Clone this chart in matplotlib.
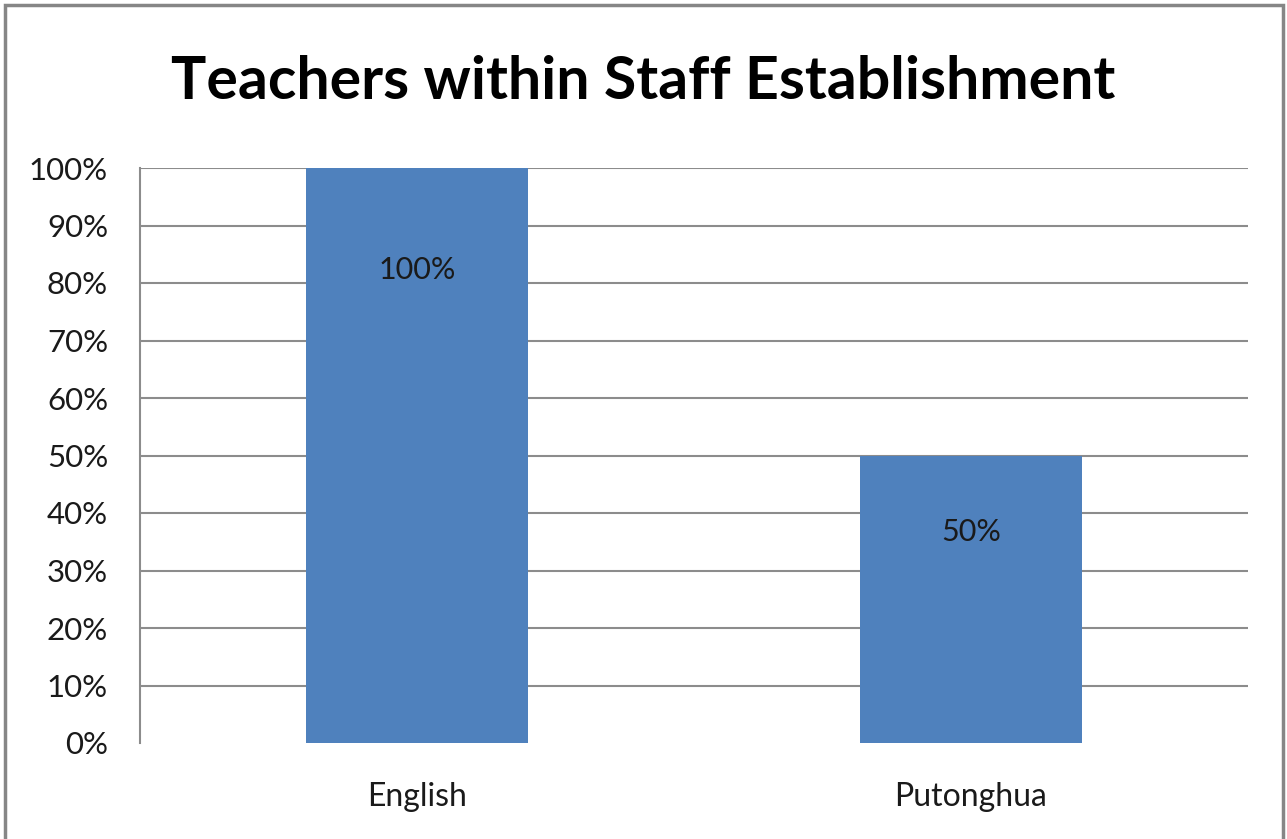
import matplotlib.pyplot as plt
from matplotlib.patches import Rectangle

subjects = ['English', 'Putonghua']
shares = [100, 50]
yticks = [0, 10, 20, 30, 40, 50, 60, 70, 80, 90, 100]

# how far below the bar top each value label sits (in % units)
label_drop = [17.7, 13.3]

plt.rcParams['font.family'] = ['Lato', 'DejaVu Sans']

fig = plt.figure(figsize=[12.87, 8.39], dpi=100, facecolor='white')
ax = fig.add_axes([140/1287, 1 - 743/839, 1108/1287, 575/839])

# outer chart border
fig.patches.append(Rectangle((5/1287, -0.01), 1278/1287, 1 - 5/839 + 0.01,
                             transform=fig.transFigure, fill=False,
                             edgecolor='#868686', linewidth=2.5))

x = range(len(subjects))
ax.bar(x, shares, width=0.4, color='#4F81BD', zorder=3)
for i, v, d in zip(x, shares, label_drop):
    ax.text(i, v - d, f'{v}%', ha='center', va='center', fontsize=22, color='#1a1a1a', zorder=4)

ax.set_xlim(-0.5, 1.5)
ax.set_ylim(0, 100)
ax.set_yticks(yticks)
ax.set_yticklabels([f'{t}%' for t in yticks], fontsize=22.5, color='#1a1a1a')
ax.set_xticks(list(x))
ax.set_xticklabels(subjects, fontsize=23, color='#1a1a1a')
ax.tick_params(axis='both', length=0)
ax.tick_params(axis='x', pad=28)
ax.tick_params(axis='y', pad=23)

ax.yaxis.grid(True, color='#8c8c8c', linewidth=1.5, zorder=0)
ax.get_ygridlines()[0].set_visible(False)
for s in ['top', 'right', 'bottom']:
    ax.spines[s].set_visible(False)
ax.spines['left'].set_color('#8c8c8c')
ax.spines['left'].set_linewidth(1.5)

fig.text(643/1287, 1 - 82/839, 'Teachers within Staff Establishment', ha='center', va='center',
         fontsize=42.5, fontweight='bold', color='black')

fig.savefig('out.png', dpi=100, facecolor='white')
